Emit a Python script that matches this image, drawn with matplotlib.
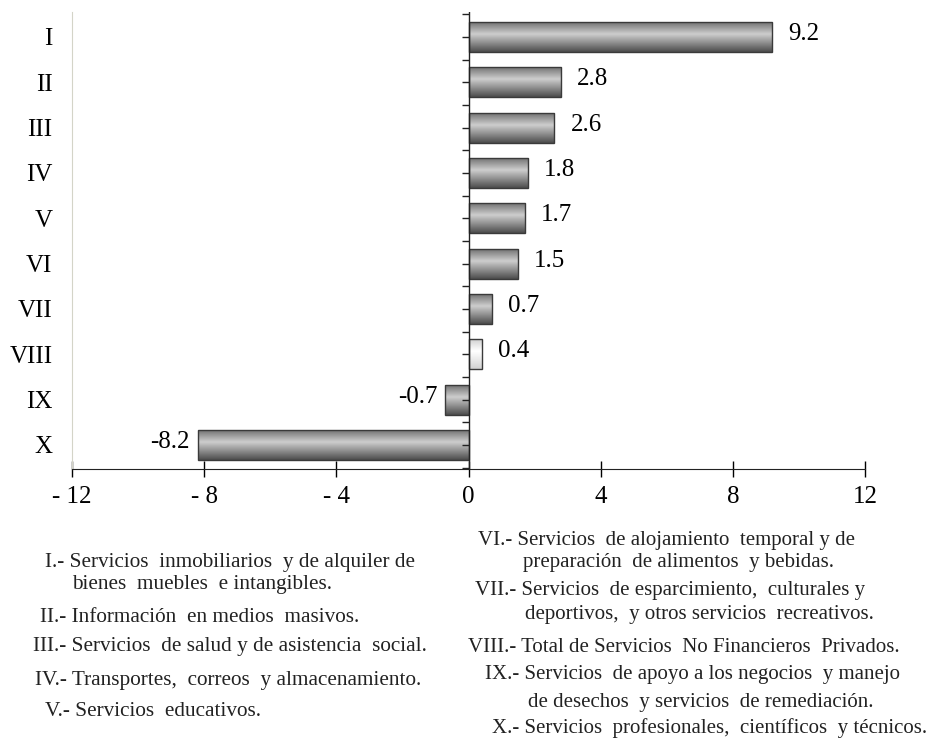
import numpy as np
import matplotlib
matplotlib.use("Agg")
import matplotlib.pyplot as plt

plt.rcParams['font.family'] = ['Liberation Serif', 'DejaVu Serif']

labels = ["I", "II", "III", "IV", "V", "VI", "VII", "VIII", "IX", "X"]
values = [9.2, 2.8, 2.6, 1.8, 1.7, 1.5, 0.7, 0.4, -0.7, -8.2]
xticks = [-12, -8, -4, 0, 4, 8, 12]
xticklabels = ["- 12", "- 8", "- 4", "0", "4", "8", "12"]

notes_left = [
    "I.- Servicios  inmobiliarios  y de alquiler de",
    "bienes  muebles  e intangibles.",
    "II.- Información  en medios  masivos.",
    "III.- Servicios  de salud y de asistencia  social.",
    "IV.- Transportes,  correos  y almacenamiento.",
    "V.- Servicios  educativos.",
]
notes_right = [
    "VI.- Servicios  de alojamiento  temporal y de",
    "preparación  de alimentos  y bebidas.",
    "VII.- Servicios  de esparcimiento,  culturales y",
    "deportivos,  y otros servicios  recreativos.",
    "VIII.- Total de Servicios  No Financieros  Privados.",
    "IX.- Servicios  de apoyo a los negocios  y manejo",
    "de desechos  y servicios  de remediación.",
    "X.- Servicios  profesionales,  científicos  y técnicos.",
]

W, H = 934, 739
fig = plt.figure(figsize=(W / 100, H / 100), dpi=100)
ax = fig.add_axes([72 / W, 1 - 469 / H, (865 - 72) / W, (469 - 12) / H])

n = len(values)
ypos = np.arange(n)[::-1]
bh = 0.66

# cylinder-like shading, light in the upper middle, dark at the bottom
grad = np.concatenate([np.linspace(0.45, 0.80, 40), np.linspace(0.80, 0.30, 60)])
grad_light = np.concatenate([np.linspace(0.82, 1.0, 40), np.linspace(1.0, 0.82, 60)])

bars = ax.barh(ypos, values, height=bh, facecolor="none", edgecolor="#3a3a3a",
               linewidth=1.0, zorder=3)
for i, (b, v) in enumerate(zip(bars, values)):
    g = grad_light if labels[i] == "VIII" else grad
    im = ax.imshow(g.reshape(-1, 1), cmap="gray", vmin=0, vmax=1, aspect="auto",
                   extent=(min(0, v), max(0, v), ypos[i] - bh / 2, ypos[i] + bh / 2),
                   zorder=2, interpolation="bilinear")
    im.set_clip_path(b)
    if v >= 0:
        ax.annotate(f"{v}", (v, ypos[i]), xytext=(16, 3), textcoords="offset pixels",
                    ha="left", va="center", fontsize=18)
    else:
        ax.annotate(f"{v}", (v, ypos[i]), xytext=(-8, 3), textcoords="offset pixels",
                    ha="right", va="center", fontsize=18)

ax.set_xlim(-12, 12)
ax.set_ylim(-0.53, n - 1 + 0.55)
ax.set_xticks(xticks)
ax.set_xticklabels(xticklabels, fontsize=18)
ax.set_yticks(ypos)
ax.set_yticklabels(labels, fontsize=18)
ax.tick_params(axis="y", length=0, pad=14)
ax.tick_params(axis="x", direction="inout", length=12, width=1, pad=6)

for s in ["top", "right"]:
    ax.spines[s].set_visible(False)
ax.spines["left"].set_color("#d4d4c8")
ax.spines["bottom"].set_color("#222222")

# zero line with small ticks
ax.axvline(0, color="#222222", linewidth=1, zorder=4)
half = np.arange(-0.5, n, 0.5)
ax.plot(np.zeros(len(half)), half, linestyle="none", marker=0, markersize=5,
        color="#222222", markeredgewidth=1, zorder=4, clip_on=True)

# notes
left_x = [45, 72, 40, 33, 35, 45]
left_y = [562, 585, 617, 647, 680, 712]
for t, x, y in zip(notes_left, left_x, left_y):
    fig.text(x / W, 1 - y / H, t, fontsize=15.3, ha="left", va="center", color="#222222")

right_x = [478, 523, 475, 525, 468, 485, 528, 492]
right_y = [540, 563, 590, 615, 647, 675, 702, 728]
for t, x, y in zip(notes_right, right_x, right_y):
    fig.text(x / W, 1 - y / H, t, fontsize=15.0, ha="left", va="center", color="#222222")

fig.savefig("out.png", dpi=100)
